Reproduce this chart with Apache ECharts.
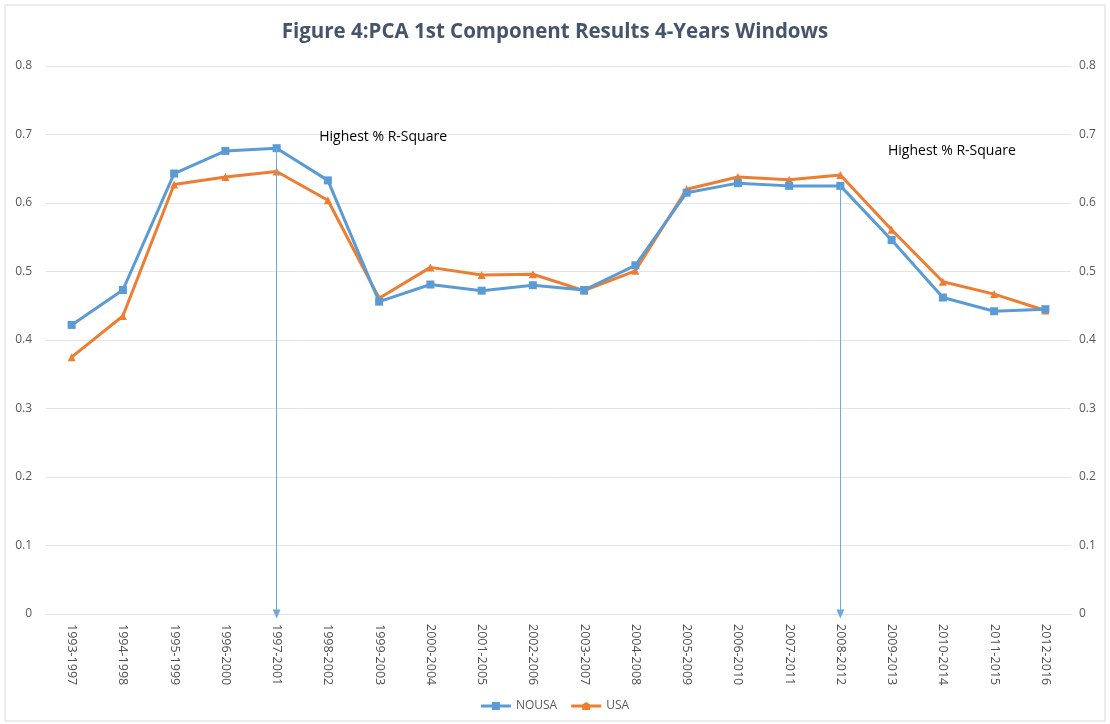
<!DOCTYPE html>
<html>
<head>
<meta charset="utf-8">
<script src="https://cdn.jsdelivr.net/npm/echarts@6/dist/echarts.min.js"></script>
<style>
html,body{margin:0;padding:0;background:#fff;}
#chart{width:1110px;height:724px;}
</style>
</head>
<body>
<div id="chart"></div>
<script>
const categories = ['1993-1997','1994-1998','1995-1999','1996-2000','1997-2001','1998-2002','1999-2003','2000-2004','2001-2005','2002-2006','2003-2007','2004-2008','2005-2009','2006-2010','2007-2011','2008-2012','2009-2013','2010-2014','2011-2015','2012-2016'];
const nousa = [0.422,0.473,0.643,0.676,0.680,0.633,0.456,0.481,0.472,0.480,0.473,0.509,0.615,0.629,0.625,0.625,0.546,0.462,0.442,0.445];
const usa = [0.375,0.435,0.627,0.638,0.646,0.604,0.461,0.506,0.495,0.496,0.472,0.501,0.620,0.638,0.634,0.641,0.561,0.485,0.467,0.443];
const yTicks = [0,0.1,0.2,0.3,0.4,0.5,0.6,0.7,0.8];
const highlights = ['1997-2001','2008-2012'];
const annotationText = 'Highest % R-Square';

const chart = echarts.init(document.getElementById('chart'));
const labelColor = '#595959';
const gridColor = '#E3E3E3';
chart.setOption({
  animation:false,
  backgroundColor:'#fff',
  title:{
    text:'Figure 4:PCA 1st Component Results 4-Years Windows',
    left:'center', top:17,
    textStyle:{fontFamily:'Open Sans',fontWeight:'bold',fontSize:20.5,color:'#44546A'}
  },
  graphic:[{type:'rect',shape:{x:5,y:5,width:1100,height:716},style:{fill:'none',stroke:'#D9D9D9',lineWidth:1},silent:true}],
  legend:{
    bottom:7, left:'center', itemWidth:30, itemHeight:8, itemGap:14,
    textStyle:{fontFamily:'Open Sans',fontSize:12,color:labelColor},
    data:[{name:'NOUSA',icon:'path://M0,2.5 L11,2.5 L11,0 L19,0 L19,2.5 L30,2.5 L30,5.5 L19,5.5 L19,8 L11,8 L11,5.5 L0,5.5 Z'},
          {name:'USA',icon:'path://M0,2.5 L11,2.5 L15,0 L19,2.5 L30,2.5 L30,5.5 L19,5.5 L19,8 L11,8 L11,5.5 L0,5.5 Z'}]
  },
  grid:{left:46,right:39,top:66,bottom:110},
  xAxis:{
    type:'category', data:categories, boundaryGap:true,
    axisLine:{lineStyle:{color:gridColor}}, axisTick:{show:false},
    axisLabel:{rotate:-90,color:'#505050',fontFamily:'Open Sans',fontSize:12.5,margin:10,interval:0}
  },
  yAxis:[
    {type:'value',min:0,max:0.8,interval:0.1,
     axisLabel:{color:labelColor,fontFamily:'Open Sans',fontSize:12,margin:14,formatter:v=>yTicks.includes(Math.round(v*10)/10)?String(Math.round(v*10)/10):''},
     splitLine:{lineStyle:{color:gridColor}},axisLine:{show:false},axisTick:{show:false}},
    {type:'value',min:0,max:0.8,interval:0.1,position:'right',
     axisLabel:{color:labelColor,fontFamily:'Open Sans',fontSize:12,margin:8,formatter:v=>String(Math.round(v*10)/10)},
     splitLine:{show:false},axisLine:{show:false},axisTick:{show:false}}
  ],
  series:[
    {name:'NOUSA',type:'line',data:nousa,color:'#5B9BD5',
     lineStyle:{width:3,color:'#5B9BD5'},symbol:'rect',symbolSize:8,
     itemStyle:{color:'#5B9BD5'},z:3,
     markLine:{silent:true,symbol:['none','triangle'],symbolSize:[8,9],
       lineStyle:{color:'#6FA8DC',width:1,type:'solid'},label:{show:false},
       data:highlights.map(c=>[{coord:[c,nousa[categories.indexOf(c)]]},{coord:[c,0]}])},
     markPoint:{symbol:'circle',symbolSize:0,silent:true,
       label:{show:true,color:'#000',fontFamily:'Open Sans',fontSize:14,formatter:annotationText,position:'inside'},
       data:[{coord:['1999-2003',0.697],label:{offset:[4,0]}},{coord:['2010-2014',0.676],label:{offset:[9,0]}}]}
    },
    {name:'USA',type:'line',data:usa,color:'#ED7D31',
     lineStyle:{width:3,color:'#ED7D31'},symbol:'triangle',symbolSize:8,
     itemStyle:{color:'#ED7D31'},z:2}
  ]
});
</script>
</body>
</html>
